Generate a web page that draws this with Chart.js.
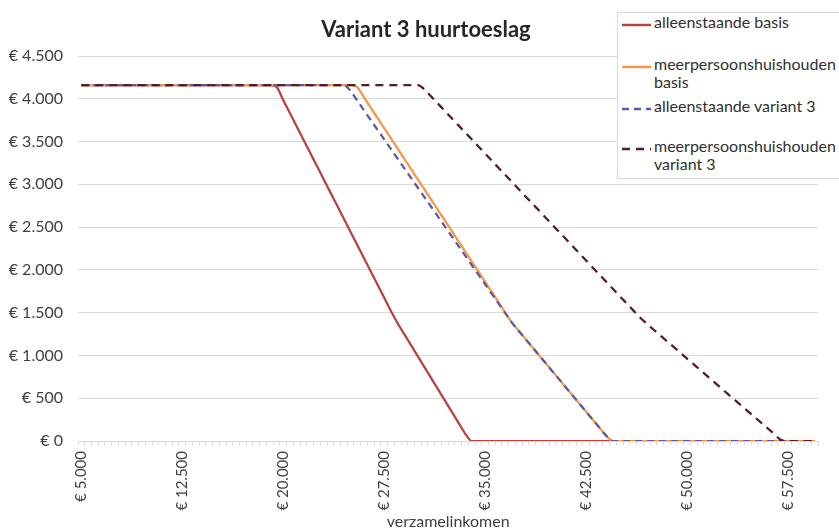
<!DOCTYPE html>
<html>
<head>
<meta charset="utf-8">
<script src="https://cdn.jsdelivr.net/npm/chart.js@4.4.1/dist/chart.umd.min.js"></script>
<style>
  body { margin: 0; background: #fff; }
  #wrap { position: relative; width: 839px; height: 532px; overflow: hidden; font-family: Lato, "Open Sans", sans-serif; }
  #title { position: absolute; left: 276px; width: 300px; top: 15px; text-align: center; white-space: nowrap;
           font-weight: bold; font-size: 22px; color: #262626; }
  #legend { position: absolute; left: 617px; top: 12px; width: 240px; height: 165px; background: #fff;
            border: 1px solid #d9d9d9; }
  .item { position: absolute; left: 4px; font-size: 16px; line-height: 18px; color: #303030; white-space: nowrap; }
  .item svg { position: absolute; left: 0; top: 4px; }
  .item span { position: absolute; left: 32px; top: -5px; }
</style>
</head>
<body>
<div id="wrap">
  <canvas id="chart" width="839" height="532"></canvas>
  <div id="title">Variant 3 huurtoeslag</div>
  <div id="legend"></div>
</div>
<script>
// verzamelinkomen per stap van 500
const incomes = [
  5000, 5500, 6000, 6500, 7000, 7500, 8000, 8500, 9000, 9500,
  10000, 10500, 11000, 11500, 12000, 12500, 13000, 13500, 14000, 14500,
  15000, 15500, 16000, 16500, 17000, 17500, 18000, 18500, 19000, 19500,
  20000, 20500, 21000, 21500, 22000, 22500, 23000, 23500, 24000, 24500,
  25000, 25500, 26000, 26500, 27000, 27500, 28000, 28500, 29000, 29500,
  30000, 30500, 31000, 31500, 32000, 32500, 33000, 33500, 34000, 34500,
  35000, 35500, 36000, 36500, 37000, 37500, 38000, 38500, 39000, 39500,
  40000, 40500, 41000, 41500, 42000, 42500, 43000, 43500, 44000, 44500,
  45000, 45500, 46000, 46500, 47000, 47500, 48000, 48500, 49000, 49500,
  50000, 50500, 51000, 51500, 52000, 52500, 53000, 53500, 54000, 54500,
  55000, 55500, 56000, 56500, 57000, 57500, 58000, 58500, 59000, 59500
];

const alleenstaandeBasis = [
  4160, 4160, 4160, 4160, 4160, 4160, 4160, 4160, 4160, 4160,
  4160, 4160, 4160, 4160, 4160, 4160, 4160, 4160, 4160, 4160,
  4160, 4160, 4160, 4160, 4160, 4160, 4160, 4160, 4160, 4138,
  3984, 3830, 3676, 3522, 3368, 3214, 3060, 2906, 2752, 2598,
  2444, 2290, 2136, 1982, 1828, 1674, 1520, 1375, 1246, 1118,
  989, 861, 732, 604, 475, 347, 218, 90, 0, 0,
  0, 0, 0, 0, 0, 0, 0, 0, 0, 0,
  0, 0, 0, 0, 0, 0, 0, 0, 0, 0,
  0, 0, 0, 0, 0, 0, 0, 0, 0, 0,
  0, 0, 0, 0, 0, 0, 0, 0, 0, 0,
  0, 0, 0, 0, 0, 0, 0, 0, 0, 0
];

const meerpersoonsBasis = [
  4160, 4160, 4160, 4160, 4160, 4160, 4160, 4160, 4160, 4160,
  4160, 4160, 4160, 4160, 4160, 4160, 4160, 4160, 4160, 4160,
  4160, 4160, 4160, 4160, 4160, 4160, 4160, 4160, 4160, 4160,
  4160, 4160, 4160, 4160, 4160, 4160, 4160, 4160, 4160, 4160,
  4160, 4136, 4016, 3896, 3776, 3657, 3537, 3417, 3297, 3177,
  3057, 2937, 2818, 2698, 2578, 2458, 2338, 2218, 2098, 1979,
  1859, 1739, 1619, 1499, 1380, 1286, 1191, 1097, 1003, 908,
  814, 720, 625, 531, 437, 343, 248, 154, 60, 0,
  0, 0, 0, 0, 0, 0, 0, 0, 0, 0,
  0, 0, 0, 0, 0, 0, 0, 0, 0, 0,
  0, 0, 0, 0, 0, 0, 0, 0, 0, 0
];

const alleenstaandeVariant3 = [
  4160, 4160, 4160, 4160, 4160, 4160, 4160, 4160, 4160, 4160,
  4160, 4160, 4160, 4160, 4160, 4160, 4160, 4160, 4160, 4160,
  4160, 4160, 4160, 4160, 4160, 4160, 4160, 4160, 4160, 4160,
  4160, 4160, 4160, 4160, 4160, 4160, 4160, 4160, 4160, 4160,
  4090, 3977, 3864, 3751, 3638, 3525, 3412, 3299, 3186, 3073,
  2960, 2847, 2735, 2622, 2509, 2396, 2283, 2170, 2057, 1944,
  1831, 1718, 1605, 1492, 1380, 1286, 1191, 1097, 1003, 908,
  814, 720, 625, 531, 437, 343, 248, 154, 60, 0,
  0, 0, 0, 0, 0, 0, 0, 0, 0, 0,
  0, 0, 0, 0, 0, 0, 0, 0, 0, 0,
  0, 0, 0, 0, 0, 0, 0, 0, 0, 0
];

const meerpersoonsVariant3 = [
  4160, 4160, 4160, 4160, 4160, 4160, 4160, 4160, 4160, 4160,
  4160, 4160, 4160, 4160, 4160, 4160, 4160, 4160, 4160, 4160,
  4160, 4160, 4160, 4160, 4160, 4160, 4160, 4160, 4160, 4160,
  4160, 4160, 4160, 4160, 4160, 4160, 4160, 4160, 4160, 4160,
  4160, 4160, 4160, 4160, 4160, 4160, 4160, 4160, 4160, 4160,
  4160, 4108, 4025, 3942, 3859, 3775, 3692, 3609, 3526, 3442,
  3359, 3276, 3192, 3109, 3026, 2943, 2859, 2776, 2693, 2609,
  2526, 2443, 2360, 2276, 2193, 2110, 2026, 1943, 1860, 1777,
  1693, 1610, 1527, 1443, 1371, 1303, 1235, 1167, 1099, 1031,
  963, 895, 827, 759, 690, 622, 554, 486, 418, 350,
  282, 214, 146, 78, 10, 0, 0, 0, 0, 0
];

// incomes that get a label on the x axis
const xTickIncomes = [5000, 12500, 20000, 27500, 35000, 42500, 50000, 57500];

const seriesNames = ['alleenstaande basis', 'meerpersoonshuishouden basis', 'alleenstaande variant 3', 'meerpersoonshuishouden variant 3'];
const seriesColors = ['#b5443f', '#f79646', '#5b5ba6', '#531c26'];
const seriesDash = [[], [], [7, 5], [8, 6]];

function euro(v) {
  return '€ ' + String(v).replace(/\B(?=(\d{3})+(?!\d))/g, '.');
}

const fontFamily = 'Lato, "Open Sans", sans-serif';
const values = [alleenstaandeBasis, meerpersoonsBasis, alleenstaandeVariant3, meerpersoonsVariant3];

new Chart(document.getElementById('chart'), {
  type: 'line',
  data: {
    labels: incomes,
    datasets: values.map((data, i) => ({
      label: seriesNames[i],
      data: data,
      borderColor: seriesColors[i],
      backgroundColor: seriesColors[i],
      borderWidth: 2.25,
      borderDash: seriesDash[i],
      pointRadius: 0,
      cubicInterpolationMode: 'monotone',
      order: 4 - i
    }))
  },
  options: {
    responsive: false,
    animation: false,
    devicePixelRatio: 1,
    layout: { padding: { top: 56, right: 11, left: 0, bottom: 0 } },
    plugins: { legend: { display: false }, title: { display: false }, tooltip: { enabled: false } },
    scales: {
      x: {
        type: 'category',
        offset: true,
        grid: { offset: true, drawOnChartArea: false, drawTicks: true, tickLength: 4, color: '#d9d9d9' },
        border: { color: '#d9d9d9' },
        ticks: {
          autoSkip: false, minRotation: 90, maxRotation: 90, padding: 6,
          color: '#404040', font: { family: fontFamily, size: 15 },
          callback: function (value, index) {
            return xTickIncomes.includes(incomes[index]) ? euro(incomes[index]) : '';
          }
        },
        title: { display: true, text: 'verzamelinkomen', color: '#404040', font: { family: fontFamily, size: 16 }, padding: { top: 0, bottom: 1 } },
        afterFit: function (scale) { scale.height = 91; }
      },
      y: {
        min: 0, max: 4500,
        grid: { color: '#d9d9d9', drawTicks: false },
        border: { display: false },
        ticks: { stepSize: 500, padding: 15, color: '#404040', font: { family: fontFamily, size: 16 }, callback: v => euro(v) },
        afterFit: function (scale) { scale.width = 78; }
      }
    }
  }
});

// legend drawn as html box in the upper right corner
const legendTops = [17, 59, 101, 141];
const legend = document.getElementById('legend');
seriesNames.forEach((name, i) => {
  const item = document.createElement('div');
  item.className = 'item';
  item.style.top = (legendTops[i] - 12) + 'px';
  const dash = seriesDash[i].length ? ' stroke-dasharray="' + seriesDash[i].join(' ') + '"' : '';
  const first = 'meerpersoonshuishouden';
  const text = name.startsWith(first + ' ') ? first + '<br>' + name.slice(first.length + 1) : name;
  item.innerHTML = '<svg width="29" height="6"><line x1="0" y1="3" x2="29" y2="3" stroke="' + seriesColors[i] +
    '" stroke-width="2.5"' + dash + '/></svg><span>' + text + '</span>';
  legend.appendChild(item);
});
</script>
</body>
</html>
